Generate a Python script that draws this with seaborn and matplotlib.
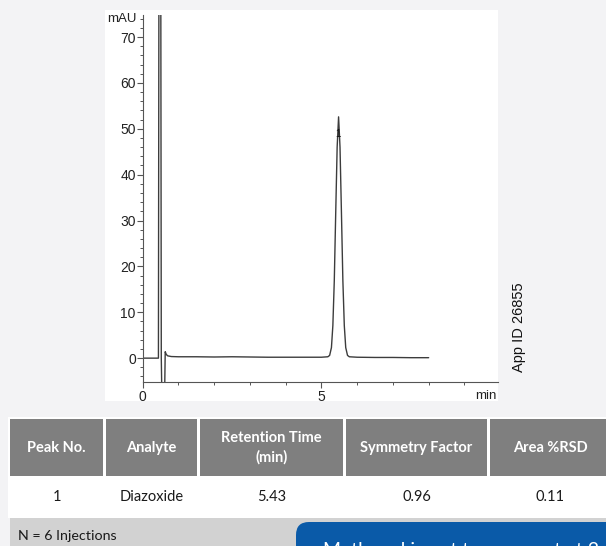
import numpy as np
import matplotlib
matplotlib.use("Agg")
import matplotlib.pyplot as plt
from matplotlib.patches import Rectangle, FancyBboxPatch
from matplotlib.ticker import MultipleLocator
import seaborn as sns

sns.set_style("white")
plt.rcParams["font.family"] = ["Liberation Sans", "DejaVu Sans"]

# chromatogram trace (min, mAU)
time = [0.00, 0.30, 0.44, 0.46, 0.50, 0.52, 0.55, 0.60, 0.63, 0.66, 0.70, 0.80,
        1.00, 1.50, 2.00, 2.50, 3.00, 3.50, 4.00, 4.50, 5.00, 5.18, 5.23, 5.28,
        5.32, 5.36, 5.40, 5.44, 5.48, 5.52, 5.56, 5.60, 5.64, 5.68, 5.73, 5.78,
        6.00, 6.50, 7.00, 7.50, 8.00]
signal = [0.0, 0.0, 0.0, 120.0, 120.0, 0.0, -15.0, -15.0, 1.4, 0.8, 0.5, 0.35,
          0.3, 0.3, 0.25, 0.3, 0.25, 0.2, 0.2, 0.2, 0.2, 0.3, 0.6, 2.3,
          7.1, 16.9, 31.7, 46.0, 52.6, 46.0, 31.7, 16.9, 7.1, 2.3, 0.6, 0.3,
          0.2, 0.15, 0.15, 0.1, 0.1]
peak_label = "1"
peak_label_pos = (5.45, 48.8)

# results table
headers = ["Peak No.", "Analyte", "Retention Time\n(min)", "Symmetry Factor", "Area %RSD"]
row = ["1", "Diazoxide", "5.43", "0.96", "0.11"]
footnote = "N = 6 Injections"
banner = "Methanol is not transparent at 2"
app_id = "App ID 26855"

W, H = 606, 546
fig = plt.figure(figsize=(W / 100, H / 100), dpi=100, facecolor="#f3f3f5")

# background / table layer in pixel coordinates
bg = fig.add_axes([0, 0, 1, 1], zorder=0)
bg.set_xlim(0, W)
bg.set_ylim(H, 0)
bg.axis("off")
bg.add_patch(Rectangle((105, 10), 393, 391, facecolor="white", edgecolor="none"))

# table
bg.add_patch(Rectangle((8, 417), W - 8, 101, facecolor="white", edgecolor="none"))
cols = [(10, 103), (106, 197), (200, 343), (346, 487), (490, 610)]
for (x0, x1), h, v in zip(cols, headers, row):
    bg.add_patch(Rectangle((x0, 419), x1 - x0, 57, facecolor="#7f7f7f", edgecolor="none"))
    bg.text((x0 + x1) / 2, 448, h, ha="center", va="center", color="white",
            fontsize=10.5, fontweight="bold", family=["Lato", "DejaVu Sans"], linespacing=1.4)
    bg.text((x0 + x1) / 2, 497, v, ha="center", va="center", color="#1a1a1a",
            fontsize=10.5, family=["Lato", "DejaVu Sans"])
bg.add_patch(Rectangle((10, 518), W - 10, 40, facecolor="#d2d2d2", edgecolor="none"))
bg.text(18, 536, footnote, ha="left", va="center", color="#1a1a1a",
        fontsize=10.3, family=["Lato", "DejaVu Sans"])
bg.add_patch(FancyBboxPatch((296, 522), 400, 60, boxstyle="round,pad=0,rounding_size=13",
                            facecolor="#0a5aa8", edgecolor="none"))
bg.text(323, 556, banner, ha="left", va="baseline", color="white",
        fontsize=14, family=["Lato", "DejaVu Sans"])

# axis captions
bg.text(137, 19, "mAU", ha="right", va="center", fontsize=9.5, color="#222222")
bg.text(497, 396, "min", ha="right", va="center", fontsize=9.5, color="#222222")
bg.text(519, 327, app_id, ha="center", va="center", rotation=90, fontsize=10.5, color="#111111")

# chromatogram
ax = fig.add_axes([142.7 / W, (H - 382) / H, (498 - 142.7) / W, (382 - 15) / H], zorder=1)
ax.set_facecolor("none")
sns.lineplot(x=time, y=signal, ax=ax, sort=False, estimator=None,
             color="#3c3c3c", linewidth=1.0)
ax.text(*peak_label_pos, peak_label, ha="center", va="center", fontsize=7, color="#111111")

ax.set_xlim(0, 9.94)
ax.set_ylim(-5.2, 74.8)
ax.xaxis.set_major_locator(MultipleLocator(5))
ax.xaxis.set_minor_locator(MultipleLocator(1))
ax.yaxis.set_major_locator(MultipleLocator(10))
ax.yaxis.set_minor_locator(MultipleLocator(2))
ax.set_yticks(np.arange(0, 71, 10))
ax.tick_params(axis="both", which="major", direction="out", length=4, width=0.8,
               color="#555555", labelsize=10, labelcolor="#222222", pad=1)
ax.tick_params(axis="both", which="minor", direction="out", length=2.5, width=0.7,
               color="#555555")
ax.tick_params(axis="x", which="major", pad=2)
ax.tick_params(left=True, bottom=True, which="both")
for side in ["top", "right"]:
    ax.spines[side].set_visible(False)
for side in ["left", "bottom"]:
    ax.spines[side].set_color("#555555")
    ax.spines[side].set_linewidth(0.8)
ax.set_xlabel("")
ax.set_ylabel("")

fig.savefig("out.png", dpi=100, facecolor=fig.get_facecolor())
